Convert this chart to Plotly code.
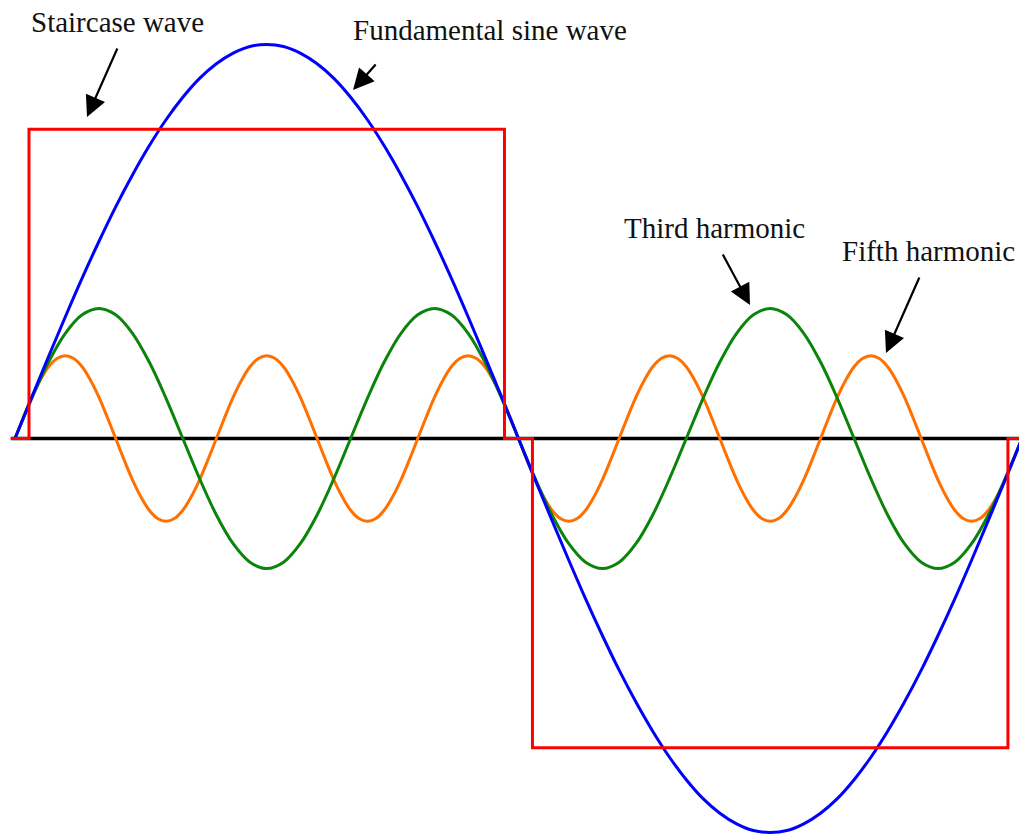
import plotly.graph_objects as go

# angle in degrees, sampled every 6 degrees over one full cycle
angle = list(range(0, 361, 6))
# finer sampling for the fast fifth harmonic (every 3 degrees)
angle_fine = list(range(0, 361, 3))

# fundamental sine wave (unit amplitude)
fundamental = [
    0.000, 0.105, 0.208, 0.309, 0.407, 0.500, 0.588, 0.669, 0.743, 0.809,
    0.866, 0.914, 0.951, 0.978, 0.995, 1.000, 0.995, 0.978, 0.951, 0.914,
    0.866, 0.809, 0.743, 0.669, 0.588, 0.500, 0.407, 0.309, 0.208, 0.105,
    0.000, -0.105, -0.208, -0.309, -0.407, -0.500, -0.588, -0.669, -0.743, -0.809,
    -0.866, -0.914, -0.951, -0.978, -0.995, -1.000, -0.995, -0.978, -0.951, -0.914,
    -0.866, -0.809, -0.743, -0.669, -0.588, -0.500, -0.407, -0.309, -0.208, -0.105,
    0.000,
]

# third harmonic (about 1/3 of the fundamental)
third = [
    0.000, 0.102, 0.194, 0.267, 0.314, 0.330, 0.314, 0.267, 0.194, 0.102,
    0.000, -0.102, -0.194, -0.267, -0.314, -0.330, -0.314, -0.267, -0.194, -0.102,
    0.000, 0.102, 0.194, 0.267, 0.314, 0.330, 0.314, 0.267, 0.194, 0.102,
    0.000, -0.102, -0.194, -0.267, -0.314, -0.330, -0.314, -0.267, -0.194, -0.102,
    0.000, 0.102, 0.194, 0.267, 0.314, 0.330, 0.314, 0.267, 0.194, 0.102,
    0.000, -0.102, -0.194, -0.267, -0.314, -0.330, -0.314, -0.267, -0.194, -0.102,
    0.000,
]

# fifth harmonic (about 1/5 of the fundamental), on angle_fine
fifth = [
    0.000, 0.054, 0.105, 0.148, 0.182, 0.203, 0.210, 0.203, 0.182, 0.148, 0.105, 0.054,
    0.000, -0.054, -0.105, -0.148, -0.182, -0.203, -0.210, -0.203, -0.182, -0.148, -0.105, -0.054,
    0.000, 0.054, 0.105, 0.148, 0.182, 0.203, 0.210, 0.203, 0.182, 0.148, 0.105, 0.054,
    0.000, -0.054, -0.105, -0.148, -0.182, -0.203, -0.210, -0.203, -0.182, -0.148, -0.105, -0.054,
    0.000, 0.054, 0.105, 0.148, 0.182, 0.203, 0.210, 0.203, 0.182, 0.148, 0.105, 0.054,
    0.000, -0.054, -0.105, -0.148, -0.182, -0.203, -0.210, -0.203, -0.182, -0.148, -0.105, -0.054,
    0.000, 0.054, 0.105, 0.148, 0.182, 0.203, 0.210, 0.203, 0.182, 0.148, 0.105, 0.054,
    0.000, -0.054, -0.105, -0.148, -0.182, -0.203, -0.210, -0.203, -0.182, -0.148, -0.105, -0.054,
    0.000, 0.054, 0.105, 0.148, 0.182, 0.203, 0.210, 0.203, 0.182, 0.148, 0.105, 0.054,
    0.000, -0.054, -0.105, -0.148, -0.182, -0.203, -0.210, -0.203, -0.182, -0.148, -0.105, -0.054,
    0.000,
]

# staircase wave corners
step_x = [-1.5, 5, 5, 175, 175, 185, 185, 355, 355, 366]
step_y = [0, 0, 0.785, 0.785, 0, 0, -0.785, -0.785, 0, 0]

axis_x = [-1.5, 366]
axis_y = [0, 0]

W, H = 1019, 837
LABEL_FONT = dict(family="Liberation Serif, Times New Roman, serif", size=29, color="#111")


def px(x):
    return x / W


def py(y):
    return 1 - y / H


fig = go.Figure()

fig.add_trace(go.Scatter(x=axis_x, y=axis_y, mode="lines",
                         line=dict(color="black", width=3.5)))
fig.add_trace(go.Scatter(x=angle_fine, y=fifth, mode="lines", line_shape="spline",
                         line=dict(color="#ff7000", width=3)))
fig.add_trace(go.Scatter(x=angle, y=third, mode="lines", line_shape="spline",
                         line=dict(color="#0b840b", width=3)))
fig.add_trace(go.Scatter(x=angle, y=fundamental, mode="lines", line_shape="spline",
                         line=dict(color="#0000ff", width=3)))
fig.add_trace(go.Scatter(x=step_x, y=step_y, mode="lines",
                         line=dict(color="#ff0000", width=3)))

# labels: text, anchor x, centre y (pixels), x anchor
labels = [
    ("Staircase wave", 117, 22, "center"),
    ("Fundamental sine wave", 490, 30, "center"),
    ("Third harmonic", 714, 228, "center"),
    ("Fifth harmonic", 1017, 251, "right"),
]
for text, lx, ly, anchor in labels:
    fig.add_annotation(text=text, x=px(lx), y=py(ly), xref="paper", yref="paper",
                       showarrow=False, font=LABEL_FONT,
                       xanchor=anchor, yanchor="middle")

# arrows: (tail x, tail y, tip x, tip y) in pixels
arrows = [
    (118, 47, 87, 117),
    (377, 63, 353, 90),
    (722, 253, 750, 305),
    (920, 276, 886, 353),
]
for tx, ty, hx, hy in arrows:
    fig.add_annotation(text="", x=px(hx), y=py(hy), xref="paper", yref="paper",
                       ax=tx - hx, ay=ty - hy, axref="pixel", ayref="pixel",
                       showarrow=True, arrowhead=2, arrowsize=1.9,
                       arrowwidth=2.2, arrowcolor="black")

fig.update_layout(
    width=W, height=H,
    margin=dict(l=0, r=0, t=0, b=0),
    paper_bgcolor="white", plot_bgcolor="white",
    showlegend=False,
    hovermode=False,
    xaxis=dict(range=[-15 / 2.797, (W - 15) / 2.797], visible=False, fixedrange=True),
    yaxis=dict(range=[-(H - 438.5) / 394, 438.5 / 394], visible=False, fixedrange=True),
)

# drop the default page margin so the figure sits at the window's corner
fig.write_html("out.html", config={"displayModeBar": False},
               post_script="document.body.style.margin = '0';")
